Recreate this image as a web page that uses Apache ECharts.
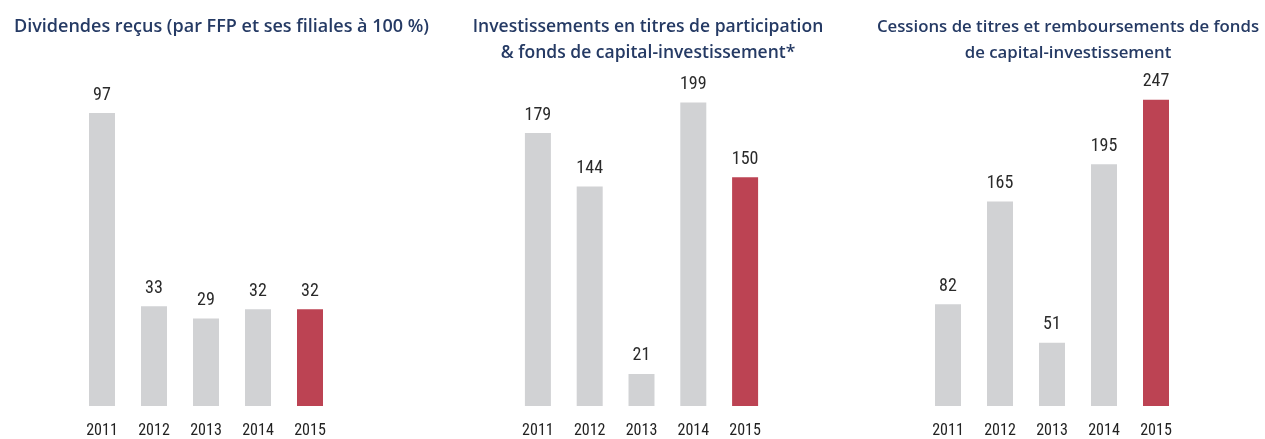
<!DOCTYPE html>
<html><head><meta charset="utf-8">
<script src="https://cdn.jsdelivr.net/npm/echarts@6/dist/echarts.min.js"></script>
<style>html,body{margin:0;padding:0;background:#fff}#c{width:1265px;height:439px}</style>
</head><body><div id="c"></div>
<script>
const years = ['2011','2012','2013','2014','2015'];
const dividendes = [97, 33, 29, 32, 32];
const investissements = [179, 144, 21, 199, 150];
const cessions = [82, 165, 51, 195, 247];
const titles = [
  'Dividendes reçus (par FFP et ses filiales à 100 %)',
  'Investissements en titres de participation\n& fonds de capital-investissement*',
  'Cessions de titres et remboursements de fonds\nde capital-investissement'
];
const yMax = [100, 200, 250];

const GRAY = '#d1d2d4', RED = '#bc4353', NAVY = '#253a64';
const NARROW = 'Liberation Sans Narrow, Roboto Condensed, Liberation Sans';
const grids = [
  {left: 76, width: 260, top: 104, bottom: 30},
  {left: 512, width: 259, top: 101, bottom: 33},
  {left: 922, width: 260, top: 96, bottom: 32}
];
const seriesData = [dividendes, investissements, cessions];
const titleCfg = [
  {left: 9, top: 9, textAlign: 'left', size: 18},
  {left: 643, top: 9, textAlign: 'center', size: 17.5},
  {left: 1063, top: 9, textAlign: 'center', size: 16.8}
];
const chart = echarts.init(document.getElementById('c'), null, {renderer: 'canvas'});
chart.setOption({
  animation: false,
  title: titles.map((t, i) => ({
    text: t, left: titleCfg[i].left, top: titleCfg[i].top, textAlign: titleCfg[i].textAlign,
    textStyle: {fontFamily: 'Open Sans', fontWeight: 600, fontSize: titleCfg[i].size, color: NAVY, lineHeight: 26}
  })),
  grid: grids,
  xAxis: grids.map((g, i) => ({
    type: 'category', gridIndex: i, data: years,
    axisLine: {show: false}, axisTick: {show: false},
    axisLabel: {margin: 17, fontFamily: NARROW, fontSize: 16, color: '#222'}
  })),
  yAxis: grids.map((g, i) => ({
    type: 'value', gridIndex: i, min: 0, max: yMax[i], show: false, splitLine: {show: false}
  })),
  series: seriesData.map((d, i) => ({
    type: 'bar', xAxisIndex: i, yAxisIndex: i, barWidth: 26,
    data: d.map((v, j) => ({value: v, itemStyle: {color: j === d.length - 1 ? RED : GRAY}})),
    label: {show: true, position: 'top', distance: 9,
      fontFamily: NARROW, fontSize: 18, color: '#2a2a2a'}
  }))
});
</script></body></html>
